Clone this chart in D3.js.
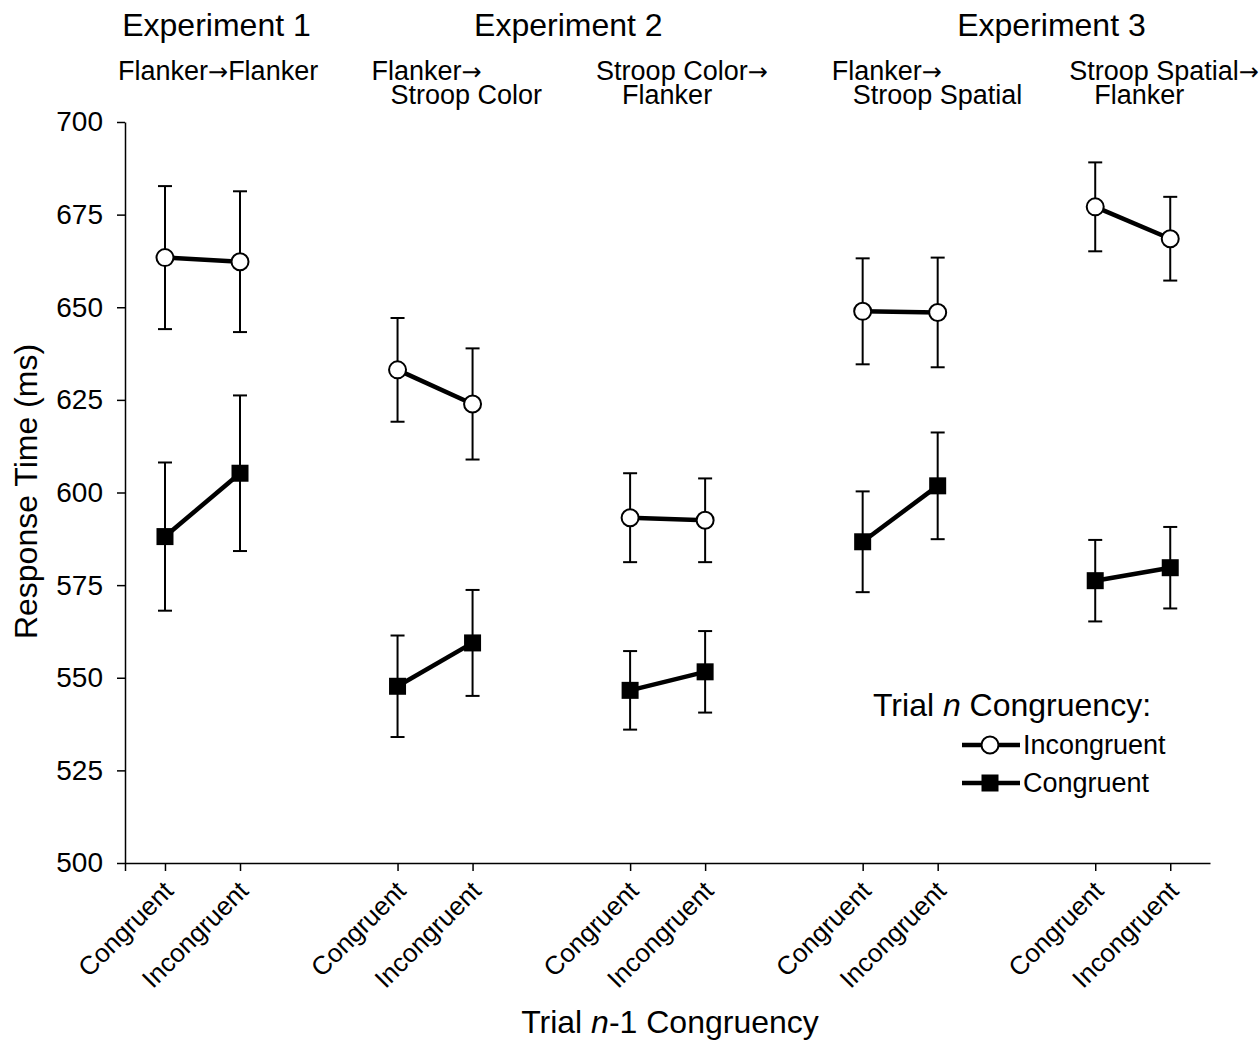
<!DOCTYPE html>
<html>
<head>
<meta charset="utf-8">
<script src="https://cdn.jsdelivr.net/npm/d3@7"></script>
<style>
  body { margin: 0; background: #fff; }
  svg { display: block; font-family: "Liberation Sans", Arial, sans-serif; }
</style>
</head>
<body>
<svg id="chart"></svg>
<script>
let width = 1259
let height = 1040

// data
let experiments = ['Experiment 1', 'Experiment 2', 'Experiment 3']
let expGroups = [[0], [1, 2], [3, 4]]
let groupLabels = [
  ['Flanker', 'Flanker'],
  ['Flanker', 'Stroop Color'],
  ['Stroop Color', 'Flanker'],
  ['Flanker', 'Stroop Spatial'],
  ['Stroop Spatial', 'Flanker']
]
let prevTrial = ['Congruent', 'Incongruent']
let incongMean = [663.4, 662.3, 633.1, 623.9, 593.2, 592.5, 648.9, 648.6, 677.1, 668.5]
let incongErr  = [19.3, 19.0, 14.0, 15.0, 12.0, 11.3, 14.3, 14.8, 12.0, 11.3]
let congMean   = [588.1, 605.2, 547.7, 559.4, 546.6, 551.6, 586.7, 601.8, 576.2, 579.7]
let congErr    = [20.0, 21.0, 13.7, 14.3, 10.6, 11.0, 13.6, 14.4, 11.0, 11.0]
let yTicks = [500, 525, 550, 575, 600, 625, 650, 675, 700]

let margin = {left: 125, right: 49, top: 122, bottom: 177}
let groupStep = 3.1

// label nudges (px) relative to the first point of each group
let line1Dx = [-47, -26, -34, -31, -26]
let line2Dx = [0, -7, -8, -10, -1]
let expOffset = [14, 17, 35]

let svg = d3.select('#chart').attr('width', width).attr('height', height)

// x slot of point i (two points per group)
let slot = (i) => Math.floor(i / 2) * groupStep + (i % 2)

let xScale = d3.scaleLinear()
  .domain([-0.533, 13.93])
  .range([margin.left, width - margin.right])
let yScale = d3.scaleLinear()
  .domain([500, 700])
  .range([height - margin.bottom, margin.top])

let slots = d3.range(incongMean.length).map(slot)

// axes
let xAxis = d3.axisBottom(xScale)
  .tickValues([xScale.domain()[0]].concat(slots))
  .tickFormat((d, i) => i === 0 ? '' : prevTrial[(i - 1) % 2])
  .tickSize(8)
  .tickSizeOuter(0)

let gx = svg.append('g')
  .attr('transform', 'translate(0,' + yScale(500) + ')')
  .call(xAxis)
gx.selectAll('path, line').attr('stroke', '#000').attr('stroke-width', 1.5)
gx.selectAll('text')
  .attr('font-size', 26)
  .attr('fill', '#000')
  .attr('text-anchor', 'end')
  .attr('y', 0)
  .attr('dy', '0.35em')
  .attr('transform', 'translate(3,23) rotate(-45)')

let yAxis = d3.axisLeft(yScale)
  .tickValues(yTicks)
  .tickSize(8)
  .tickSizeOuter(0)
  .tickPadding(14)

let gy = svg.append('g')
  .attr('transform', 'translate(' + xScale(xScale.domain()[0]) + ',0)')
  .call(yAxis)
gy.selectAll('path, line').attr('stroke', '#000').attr('stroke-width', 1.5)
gy.selectAll('text').attr('font-size', 28).attr('fill', '#000')

// axis titles
svg.append('text')
  .attr('transform', 'translate(37,' + (yScale(600) - 1) + ') rotate(-90)')
  .attr('text-anchor', 'middle')
  .attr('font-size', 32)
  .text('Response Time (ms)')

let xt = svg.append('text')
  .attr('x', 670)
  .attr('y', 1033)
  .attr('text-anchor', 'middle')
  .attr('font-size', 32)
xt.append('tspan').text('Trial ')
xt.append('tspan').attr('font-style', 'italic').text('n')
xt.append('tspan').text('-1 Congruency')

// experiment titles
experiments.forEach((name, e) => {
  let g = expGroups[e]
  let cx = (xScale(slot(g[0] * 2)) + xScale(slot(g[g.length - 1] * 2 + 1))) / 2 + expOffset[e]
  svg.append('text')
    .attr('x', cx)
    .attr('y', 36)
    .attr('text-anchor', 'middle')
    .attr('font-size', 32)
    .text(name)
})

// group subtitles: "from -> to"
let arrow = (sel) => sel.append('tspan')
  .attr('font-family', '"DejaVu Sans", sans-serif')
  .attr('font-size', 24)
  .text('\u2192')

groupLabels.forEach((lines, g) => {
  let x0 = xScale(slot(g * 2))
  if (g === 0) {
    let t = svg.append('text')
      .attr('x', x0 + line1Dx[g])
      .attr('y', 80)
      .attr('font-size', 27)
    t.append('tspan').text(lines[0])
    arrow(t)
    t.append('tspan').text(lines[1])
  } else {
    let t = svg.append('text')
      .attr('x', x0 + line1Dx[g])
      .attr('y', 80)
      .attr('font-size', 27)
    t.append('tspan').text(lines[0])
    arrow(t)
    svg.append('text')
      .attr('x', x0 + line2Dx[g])
      .attr('y', 104)
      .attr('font-size', 27)
      .text(lines[1])
  }
})

// series
let series = [
  {name: 'Incongruent', mean: incongMean, err: incongErr, shape: 'circle'},
  {name: 'Congruent', mean: congMean, err: congErr, shape: 'square'}
]

let line = d3.line().x(d => xScale(d.x)).y(d => yScale(d.y))

let drawMarker = (sel, shape, x, y) => {
  if (shape === 'circle') {
    sel.append('circle')
      .attr('cx', x).attr('cy', y).attr('r', 8.5)
      .attr('fill', '#fff').attr('stroke', '#000').attr('stroke-width', 2)
  } else {
    sel.append('rect')
      .attr('x', x - 8.5).attr('y', y - 8.5)
      .attr('width', 17).attr('height', 17)
      .attr('fill', '#000')
  }
}

series.forEach(s => {
  let pts = s.mean.map((m, i) => ({x: slot(i), y: m, e: s.err[i]}))
  let g = svg.append('g')

  // error bars
  pts.forEach(p => {
    let x = xScale(p.x)
    g.append('line')
      .attr('x1', x).attr('x2', x)
      .attr('y1', yScale(p.y - p.e)).attr('y2', yScale(p.y + p.e))
      .attr('stroke', '#000').attr('stroke-width', 2)
    ;[p.y - p.e, p.y + p.e].forEach(v => {
      g.append('line')
        .attr('x1', x - 7).attr('x2', x + 7)
        .attr('y1', yScale(v)).attr('y2', yScale(v))
        .attr('stroke', '#000').attr('stroke-width', 2)
    })
  })

  // connecting lines, one per group
  d3.range(pts.length / 2).forEach(k => {
    g.append('path')
      .datum(pts.slice(k * 2, k * 2 + 2))
      .attr('d', line)
      .attr('fill', 'none')
      .attr('stroke', '#000')
      .attr('stroke-width', 4.5)
  })

  pts.forEach(p => drawMarker(g, s.shape, xScale(p.x), yScale(p.y)))
})

// legend
let lg = svg.append('g')
let lt = lg.append('text').attr('x', 873).attr('y', 716).attr('font-size', 32)
lt.append('tspan').text('Trial ')
lt.append('tspan').attr('font-style', 'italic').text('n')
lt.append('tspan').text(' Congruency:')

series.forEach((s, i) => {
  let y = 745 + i * 38
  lg.append('line')
    .attr('x1', 962).attr('x2', 1020)
    .attr('y1', y).attr('y2', y)
    .attr('stroke', '#000').attr('stroke-width', 4.5)
  drawMarker(lg, s.shape, 990, y)
  lg.append('text')
    .attr('x', 1023).attr('y', y)
    .attr('dy', '0.35em')
    .attr('font-size', 27)
    .text(s.name)
})
</script>
</body>
</html>
